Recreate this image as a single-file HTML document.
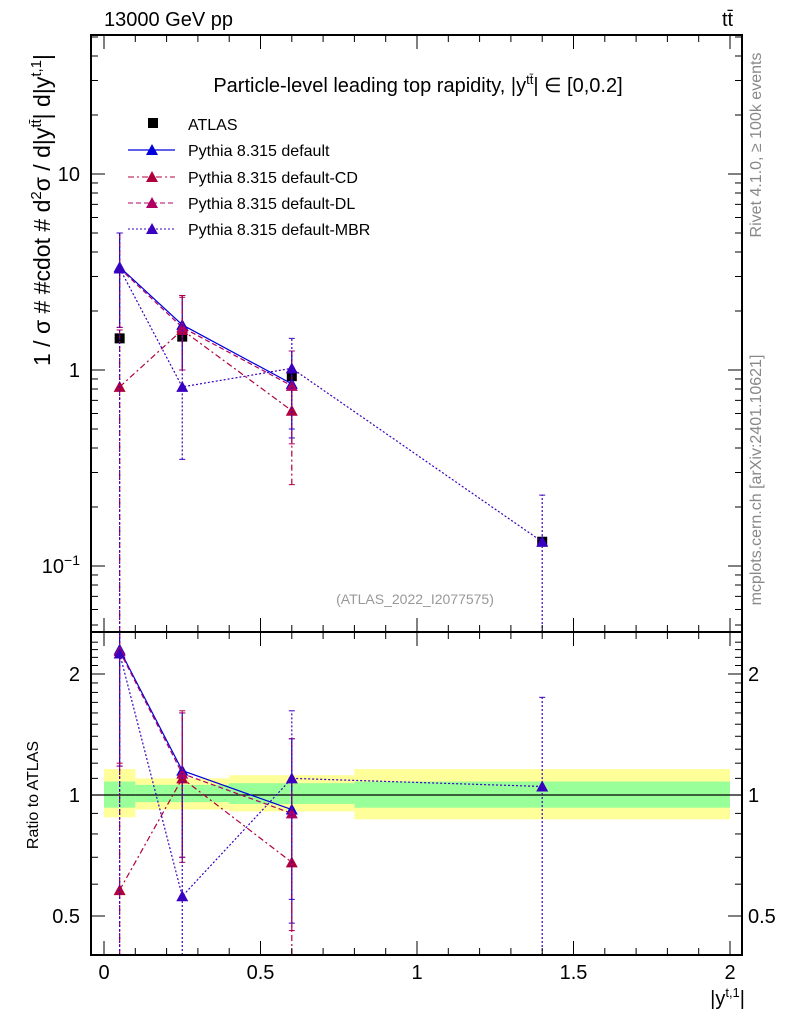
<!DOCTYPE html>
<html><head><meta charset="utf-8"><style>
body{margin:0;background:#fff}
svg text{font-family:"Liberation Sans",sans-serif}
</style></head><body>
<svg id="c" width="786" height="1024" xmlns="http://www.w3.org/2000/svg"></svg>
<script>
const xCenters=[0.05,0.25,0.6,1.4];
const binEdges=[0,0.1,0.4,0.8,2];
const atlas=[1.45,1.48,0.93,0.133];
const seriesNames=["Pythia 8.315 default","Pythia 8.315 default-CD","Pythia 8.315 default-DL","Pythia 8.315 default-MBR"];
const sDefault=[3.35,1.7,0.85,null];
const sCD=[0.82,1.6,0.62,null];
const sDL=[3.3,1.65,0.83,null];
const sMBR=[3.3,0.82,1.02,0.133];
const errDefault=[[1.65,5.0],[1.0,2.4],[0.45,1.25],null];
const errCD=[[0.01,1.6],[1.0,2.4],[0.26,1.0],null];
const errDL=[[1.65,5.0],[1.0,2.35],[0.42,1.25],null];
const errMBR=[[0.01,5.0],[0.35,1.7],[0.5,1.45],[0.01,0.23]];
const rDefault=[2.3,1.15,0.92,null];
const rCD=[0.58,1.1,0.68,null];
const rDL=[2.28,1.13,0.9,null];
const rMBR=[2.25,0.56,1.1,1.05];
const rErrDefault=[[1.18,3],[0.7,1.6],[0.48,1.38],null];
const rErrCD=[[0.1,1.2],[0.68,1.62],[0.28,1.1],null];
const rErrDL=[[1.18,3],[0.7,1.6],[0.46,1.38],null];
const rErrMBR=[[0.1,3],[0.25,1.15],[0.55,1.62],[0.1,1.75]];
const bandYellow=[[0.88,1.16],[0.92,1.1],[0.91,1.12],[0.87,1.16]];
const bandGreen=[[0.93,1.08],[0.96,1.06],[0.95,1.07],[0.93,1.08]];

const NS="http://www.w3.org/2000/svg",svg=document.getElementById('c');
function el(t,a,p){const e=document.createElementNS(NS,t);for(const k in a)e.setAttribute(k,a[k]);(p||svg).appendChild(e);return e;}
const L=91,R=742,T=35,MB=632,B=955;
const X=v=>104+v*313;
const Y=v=>174-(Math.log10(v)-1)*196;
const YR=v=>795-Math.log2(v)*121;
const cl=(y,a,b)=>Math.max(a,Math.min(b,y));

for(let i=0;i<4;i++){
 let r=el('rect',{x:X(binEdges[i]),y:YR(bandYellow[i][1]),width:X(binEdges[i+1])-X(binEdges[i]),height:YR(bandYellow[i][0])-YR(bandYellow[i][1]),fill:'#ffff99'});
 
 
}
for(let i=0;i<4;i++){
 let r=el('rect',{x:X(binEdges[i]),y:YR(bandGreen[i][1]),width:X(binEdges[i+1])-X(binEdges[i]),height:YR(bandGreen[i][0])-YR(bandGreen[i][1]),fill:'#99ff99'});
 
 
}
el('line',{x1:L,x2:R,y1:YR(1),y2:YR(1),stroke:'#000','stroke-width':1.2});

const styles=[{c:'#0000dd',d:''},{c:'#b0003c',d:'6,3,2,3'},{c:'#b00060',d:'5,3'},{c:'#3a00c0',d:'2,2'}];
function drawSeries(vals,errs,fy,st,top,bot,name){
 const g=el('g',{});
 
 
 let pts=[];
 vals.forEach((v,i)=>{if(v!=null)pts.push([X(xCenters[i]),fy(v)]);});
 el('polyline',{points:pts.map(p=>p.join(',')).join(' '),fill:'none',stroke:st.c,'stroke-width':1.2,'stroke-dasharray':st.d},g);
 errs.forEach((e,i)=>{if(!e)return;const x=X(xCenters[i]);const y1=cl(fy(e[0]),top,bot),y2=cl(fy(e[1]),top,bot);
  el('line',{x1:x,x2:x,y1:y1,y2:y2,stroke:st.c,'stroke-width':1.2,'stroke-dasharray':st.d},g);
  [y1,y2].forEach(y=>{if(y>top&&y<bot)el('line',{x1:x-3,x2:x+3,y1:y,y2:y,stroke:st.c},g);});});
 vals.forEach((v,i)=>{if(v==null)return;const x=X(xCenters[i]),y=fy(v);
  el('polygon',{points:`${x-6},${y+5} ${x+6},${y+5} ${x},${y-6}`,fill:st.c},g);});
}
const atl=el('g',{});
atlas.forEach((v,i)=>el('rect',{x:X(xCenters[i])-5,y:Y(v)-5,width:10,height:10,fill:'#000'},atl));
drawSeries(sDefault,errDefault,Y,styles[0],T,MB,'series-default');
drawSeries(sCD,errCD,Y,styles[1],T,MB,'series-default-cd');
drawSeries(sDL,errDL,Y,styles[2],T,MB,'series-default-dl');
drawSeries(sMBR,errMBR,Y,styles[3],T,MB,'series-default-mbr');
drawSeries(rDefault,rErrDefault,YR,styles[0],MB,B,'ratio-default');
drawSeries(rCD,rErrCD,YR,styles[1],MB,B,'ratio-default-cd');
drawSeries(rDL,rErrDL,YR,styles[2],MB,B,'ratio-default-dl');
drawSeries(rMBR,rErrMBR,YR,styles[3],MB,B,'ratio-default-mbr');

el('rect',{x:L,y:T,width:R-L,height:MB-T,fill:'none',stroke:'#000','stroke-width':2});
el('rect',{x:L,y:MB,width:R-L,height:B-MB,fill:'none',stroke:'#000','stroke-width':2});
for(let v=0;v<=2.0001;v+=0.1){const x=X(v);const maj=Math.abs(v*2-Math.round(v*2))<1e-6;const len=maj?14:7;
 [T,MB].forEach(y0=>el('line',{x1:x,x2:x,y1:y0,y2:y0+len,stroke:'#000'}));
 [MB,B].forEach(y0=>el('line',{x1:x,x2:x,y1:y0,y2:y0-len,stroke:'#000'}));}
const xl=['0','0.5','1','1.5','2'];
xl.forEach((t,i)=>{const e=el('text',{x:X(i*0.5),y:979,'font-size':20,'text-anchor':'middle'});e.textContent=t;
 });
for(let d=-2;d<=1;d++)for(let m=1;m<10;m++){const v=m*Math.pow(10,d);const y=Y(v);if(y<T||y>MB)continue;const len=m==1?14:7;
 el('line',{x1:L,x2:L+len,y1:y,y2:y,stroke:'#000'});el('line',{x1:R,x2:R-len,y1:y,y2:y,stroke:'#000'});}
[['10',Y(10)],['1',Y(1)]].forEach(a=>{const e=el('text',{x:80,y:a[1]+7,'font-size':20,'text-anchor':'end'});e.textContent=a[0];
 });
let e=el('text',{x:80,y:Y(0.1)+7,'font-size':20,'text-anchor':'end'});e.innerHTML='10<tspan dy="-8" font-size="14">−1</tspan>';
for(let v=0.4;v<=2.5;v+=0.1){const y=YR(v);if(y<MB||y>B)continue;const maj=[0.5,1,2].some(m=>Math.abs(m-v)<1e-6);const len=maj?14:7;
 el('line',{x1:L,x2:L+len,y1:y,y2:y,stroke:'#000'});el('line',{x1:R,x2:R-len,y1:y,y2:y,stroke:'#000'});}
[['2',2],['1',1],['0.5',0.5]].forEach(a=>{let t=el('text',{x:80,y:YR(a[1])+7,'font-size':20,'text-anchor':'end'});t.textContent=a[0];
 t=el('text',{x:748,y:YR(a[1])+7,'font-size':20});t.textContent=a[0];});
</script>
<svg width="786" height="1024" style="position:absolute;left:0;top:0" xmlns="http://www.w3.org/2000/svg">
<text x="104" y="26" font-size="20" font-family="Liberation Sans">13000 GeV pp</text>
<text x="722" y="26" font-size="20" font-family="Liberation Sans">tt̄</text>
<text x="418" y="92" font-size="20" text-anchor="middle" font-family="Liberation Sans">Particle-level leading top rapidity, |y<tspan dy="-8" font-size="13">tt̄</tspan><tspan dy="8">| ∈ [0,0.2]</tspan></text>
<g font-family="Liberation Sans" font-size="16">
<rect x="148" y="118" width="10" height="10" fill="#000"/><text x="188" y="130">ATLAS</text>
<line x1="128" x2="175" y1="150" y2="150" stroke="#0000dd" stroke-width="1.2"/><polygon points="146,155 158,155 152,144" fill="#0000dd"/><text x="188" y="156">Pythia 8.315 default</text>
<line x1="128" x2="175" y1="177" y2="177" stroke="#b0003c" stroke-dasharray="6,3,2,3"/><polygon points="146,182 158,182 152,171" fill="#b0003c"/><text x="188" y="183">Pythia 8.315 default-CD</text>
<line x1="128" x2="175" y1="203" y2="203" stroke="#b00060" stroke-dasharray="5,3"/><polygon points="146,208 158,208 152,197" fill="#b00060"/><text x="188" y="209">Pythia 8.315 default-DL</text>
<line x1="128" x2="175" y1="229" y2="229" stroke="#3a00c0" stroke-dasharray="2,2"/><polygon points="146,234 158,234 152,223" fill="#3a00c0"/><text x="188" y="235">Pythia 8.315 default-MBR</text>
</g>
<text x="415" y="604" font-size="14" fill="#999" text-anchor="middle" font-family="Liberation Sans">(ATLAS_2022_I2077575)</text>
<text transform="translate(50,210) rotate(-90)" font-size="23" text-anchor="middle" font-family="Liberation Sans">1 / σ # #cdot # d<tspan dy="-9" font-size="15">2</tspan><tspan dy="9">σ / d|y</tspan><tspan dy="-9" font-size="15">tt̄</tspan><tspan dy="9">| d|y</tspan><tspan dy="-9" font-size="15">t,1</tspan><tspan dy="9">|</tspan></text>
<text transform="translate(38,795) rotate(-90)" font-size="16" text-anchor="middle" font-family="Liberation Sans">Ratio to ATLAS</text>
<text x="745" y="1005" font-size="20" text-anchor="end" font-family="Liberation Sans">|y<tspan dy="-8" font-size="13">t,1</tspan><tspan dy="8">|</tspan></text>
<text transform="translate(761,145) rotate(-90)" font-size="16" fill="#888" text-anchor="middle" font-family="Liberation Sans">Rivet 4.1.0, ≥ 100k events</text>
<text transform="translate(761,480) rotate(-90)" font-size="16" fill="#888" text-anchor="middle" font-family="Liberation Sans">mcplots.cern.ch [arXiv:2401.10621]</text>
</svg>
</body></html>
